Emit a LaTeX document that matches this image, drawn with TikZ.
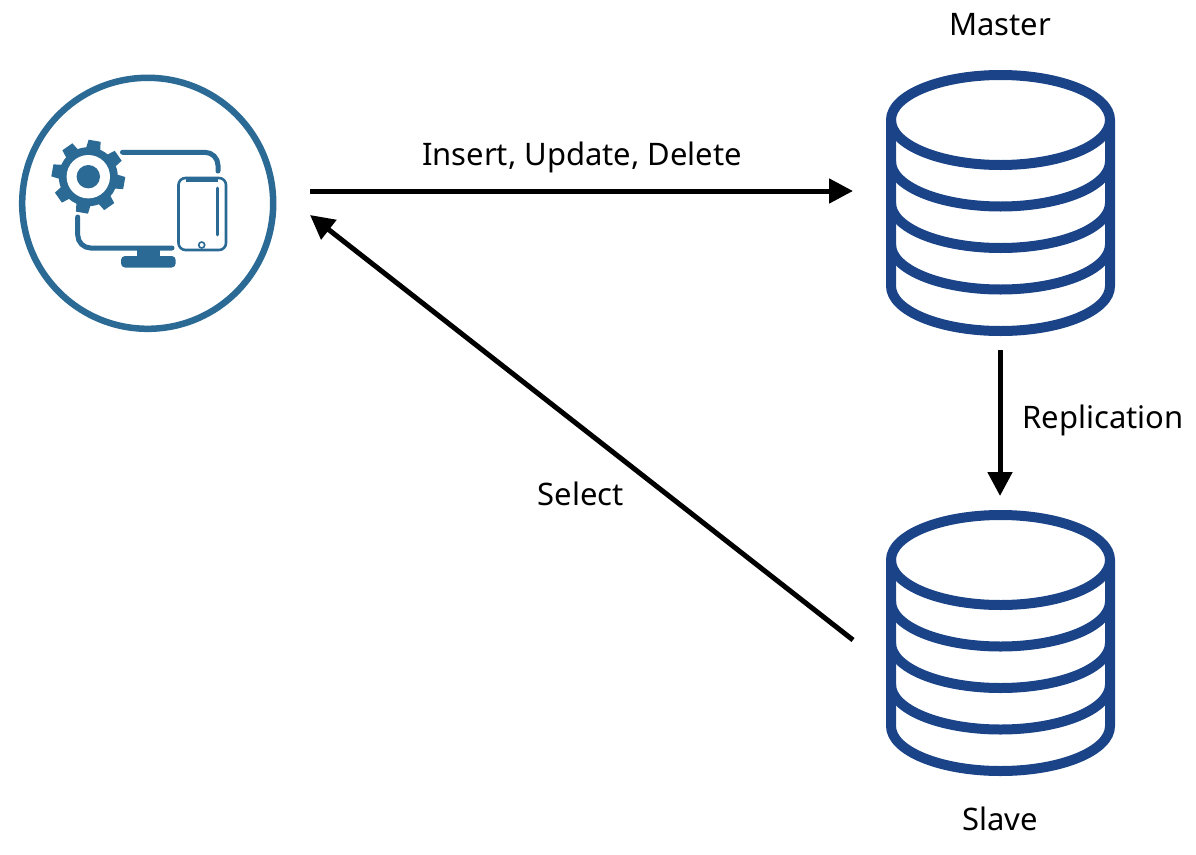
\documentclass[tikz,border=0pt]{standalone}
\usepackage{fontspec}
\setmainfont{Noto Sans}
\usepackage{xcolor}
\usetikzlibrary{arrows.meta,positioning}
\definecolor{dbblue}{HTML}{1A4388}
\definecolor{iconblue}{HTML}{2A6A94}
\newcommand{\DbStack}[1]{%
\begin{scope}[shift={(#1)}, dbline/.style={draw=dbblue, line width=10pt, line cap=round, line join=round}]
\draw[dbline] (-109.5,-83) -- (-109.5,83) arc[start angle=180, end angle=0, x radius=109.5, y radius=45] -- (109.5,-83) arc[start angle=0, end angle=-180, x radius=109.5, y radius=45];
\foreach \y in {-83,-41.5,0,41.5} \draw[dbline] (-109.5,\y) arc[start angle=180, end angle=0, x radius=109.5, y radius=45];
\end{scope}}
\begin{document}
\begin{tikzpicture}[x=1pt, y=-1pt, >={Triangle[length=24pt,width=24pt]},
  every node/.style={font=\fontsize{31}{37}\selectfont},
  dbbox/.style={minimum width=294pt, minimum height=294pt, inner sep=0pt, outer sep=0pt},
  clientbox/.style={minimum width=326pt, minimum height=260pt, inner sep=0pt, outer sep=0pt},
  flow/.style={->, line width=5pt},
  iconline/.style={draw=iconblue, line width=5pt, line cap=round}]
\useasboundingbox (0,0) rectangle (1196,854);
\node[clientbox] (client) at (147,203) {};
\node[dbbox] (master) at (1000,203) {};
\node[dbbox] (slave) at (1000,643) {};
\DbStack{1000.5,203}
\DbStack{1000.5,643}
\draw[draw=iconblue, line width=6.5pt] (147.7,203.3) circle[radius=125.5];
\begin{scope}[shift={(88.3,176.7)}]
\fill[iconblue] (0,0) circle[radius=29.5];
\foreach \a in {-80,-35,...,235} \fill[iconblue] (\a-15:28) -- (\a-9.5:37) -- (\a+9.5:37) -- (\a+15:28) -- cycle;
\fill[white] (0,0) circle[radius=21.7];
\fill[iconblue] (0,0) circle[radius=11.7];
\end{scope}
\draw[iconline] (122.5,152.3) -- (205,152.3) arc[start angle=-90, end angle=0, radius=13] -- (218,171);
\draw[iconline] (77.7,217) -- (77.7,235) arc[start angle=180, end angle=90, radius=13] -- (172,248);
\fill[iconblue] (136.7,248) rectangle (160,258);
\fill[iconblue, rounded corners=4pt] (121,256) rectangle (175.7,267.5);
\draw[draw=iconblue, line width=2.6pt, rounded corners=7pt] (178.5,178) rectangle (226,250);
\draw[iconblue, line width=4pt] (186,179.5) -- (218,179.5);
\draw[iconblue, line width=2.8pt, line cap=round] (217.3,188) -- (217.3,235);
\draw[draw=iconblue, fill=white, line width=1.6pt] (201.7,245) circle[radius=3];
\node (masterlabel) at (1000,25) {Master};
\node (slavelabel) at (1000,819) {Slave};
\node (writelabel) at (582,157) {Insert, Update, Delete};
\node (replabel) at (1103,420) {Replication};
\node (selectlabel) at (581,494) {Select};
\draw[flow] ([yshift=12pt]client.east) -- ([yshift=12pt]master.west);
\draw[flow] (master.south) -- (slave.north);
\draw[flow] ([yshift=3pt]slave.west) -- ([yshift=-12pt]client.east);
\end{tikzpicture}
\end{document}
